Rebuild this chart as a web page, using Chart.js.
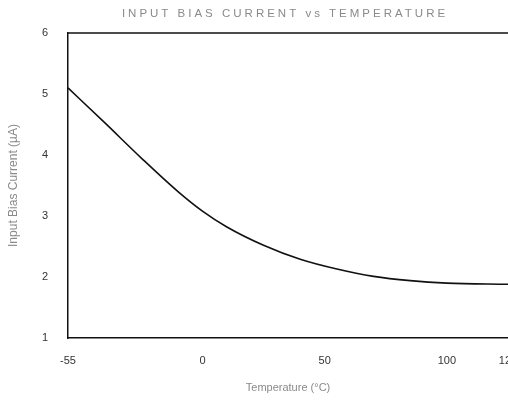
<!DOCTYPE html>
<html>
<head>
<meta charset="utf-8">
<script src="https://cdn.jsdelivr.net/npm/chart.js@4/dist/chart.umd.min.js"></script>
<style>
  html, body { margin: 0; padding: 0; background: #fff; }
  #wrap { width: 508px; height: 404px; }
</style>
</head>
<body>
<div id="wrap"><canvas id="c" width="508" height="404"></canvas></div>
<script>
// Input bias current (µA) versus ambient temperature (°C)
const temperatures = [-55, -40, -25, -10, 0, 10, 25, 40, 55, 70, 85, 100, 125];
const biasCurrent = [5.1, 4.53, 3.95, 3.4, 3.08, 2.82, 2.52, 2.29, 2.13, 2.01, 1.94, 1.9, 1.88];
const xTickValues = [-55, 0, 50, 100, 125];
const yTickValues = [1, 2, 3, 4, 5, 6];

const chartTitle = 'INPUT BIAS CURRENT vs TEMPERATURE';
const xTitle = 'Temperature (°C)';
const yTitle = 'Input Bias Current (µA)';

// Spaced-out heading plus a closing rule along the top of the plot area
const framePlugin = {
  id: 'frame',
  afterDraw(chart) {
    const { ctx, chartArea } = chart;
    ctx.save();
    ctx.strokeStyle = '#111';
    ctx.lineWidth = 1.5;
    ctx.beginPath();
    ctx.moveTo(chartArea.left, chartArea.top);
    ctx.lineTo(chartArea.right, chartArea.top);
    ctx.stroke();

    ctx.fillStyle = '#8a8a8a';
    ctx.font = '11.5px "Liberation Sans", Arial, sans-serif';
    ctx.letterSpacing = '3px';
    ctx.textAlign = 'center';
    ctx.textBaseline = 'middle';
    ctx.fillText(chartTitle, (chartArea.left + chartArea.right) / 2 - 3, 14);
    ctx.restore();
  }
};

new Chart(document.getElementById('c'), {
  type: 'line',
  data: {
    datasets: [{
      data: temperatures.map((t, i) => ({ x: t, y: biasCurrent[i] })),
      borderColor: '#111',
      borderWidth: 1.6,
      pointRadius: 0,
      cubicInterpolationMode: 'monotone',
      fill: false
    }]
  },
  options: {
    responsive: false,
    animation: false,
    layout: { padding: { top: 33, right: 0, bottom: 0, left: 0 } },
    plugins: {
      legend: { display: false },
      tooltip: { enabled: false },
      title: { display: false }
    },
    scales: {
      x: {
        type: 'linear',
        min: -55,
        max: 125,
        afterBuildTicks(scale) { scale.ticks = xTickValues.map(v => ({ value: v })); },
        afterFit(scale) { scale.paddingRight = 0; scale.paddingLeft = 0; scale.height = 66; },
        grid: { display: false, drawTicks: false },
        border: { display: true, color: '#111', width: 1.5 },
        ticks: {
          padding: 16,
          color: '#333',
          font: { family: '"Liberation Sans", Arial, sans-serif', size: 11 },
          maxRotation: 0,
          autoSkip: false
        },
        title: {
          display: true,
          text: xTitle,
          color: '#8a8a8a',
          font: { family: '"Liberation Sans", Arial, sans-serif', size: 11 },
          padding: { top: 0, bottom: 9 }
        }
      },
      y: {
        min: 1,
        max: 6,
        afterBuildTicks(scale) { scale.ticks = yTickValues.map(v => ({ value: v })); },
        afterFit(scale) { scale.width = 68; },
        grid: { display: false, drawTicks: false },
        border: { display: true, color: '#111', width: 1.5 },
        ticks: {
          padding: 20,
          color: '#333',
          font: { family: '"Liberation Sans", Arial, sans-serif', size: 11 }
        },
        title: {
          display: true,
          text: yTitle,
          color: '#8a8a8a',
          font: { family: '"Liberation Sans", Arial, sans-serif', size: 12 },
          padding: { top: 6, bottom: 0 }
        }
      }
    }
  },
  plugins: [framePlugin]
});
</script>
</body>
</html>
